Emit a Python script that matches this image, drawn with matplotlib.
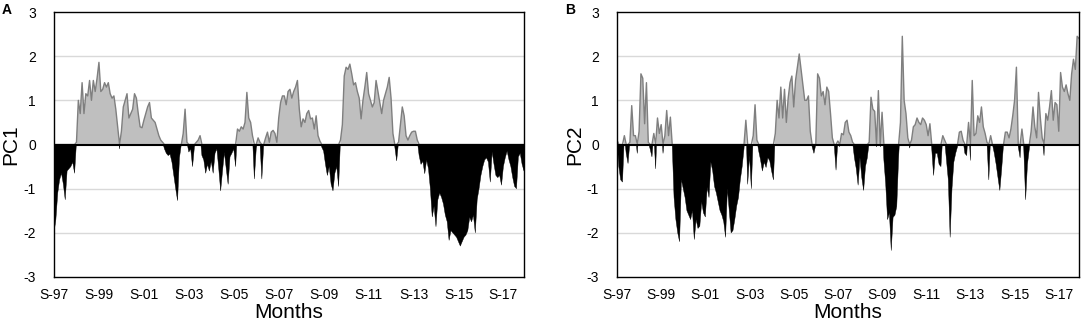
import numpy as np
import matplotlib
matplotlib.use("Agg")
import matplotlib.pyplot as plt

plt.rcParams["font.family"] = ["Liberation Sans", "DejaVu Sans"]
plt.rcParams["axes.unicode_minus"] = False

# monthly PC scores, Sep 1997 .. Aug 2018
pc1 = [
    -2.0, -1.7, -1.1, -0.8, -0.65, -0.9, -1.25, -0.6, -0.55, -0.5, -0.4, -0.65,
    0.05, 1.0, 0.7, 1.4, 0.7, 1.15, 1.1, 1.45, 1.0, 1.45, 1.2, 1.5,
    1.86, 1.2, 1.25, 1.4, 1.3, 1.4, 1.15, 1.05, 1.1, 0.8, 0.4, -0.1,
    0.3, 0.85, 1.0, 1.15, 0.6, 0.7, 0.8, 1.15, 1.05, 0.7, 0.4, 0.38,
    0.55, 0.7, 0.85, 0.95, 0.6, 0.55, 0.5, 0.35, 0.2, 0.1, 0.05, -0.1,
    -0.2, -0.25, -0.22, -0.4, -0.7, -1.0, -1.27, -0.3, 0.0, 0.25, 0.8, 0.05,
    -0.17, -0.1, -0.5, -0.05, 0.05, 0.1, 0.2, -0.25, -0.35, -0.65, -0.45, -0.6,
    -0.38, -0.65, -0.2, -0.1, -0.55, -1.05, -0.6, -0.18, -0.55, -0.9, -0.28, -0.2,
    -0.1, -0.5, 0.35, 0.3, 0.4, 0.35, 0.5, 1.18, 0.6, 0.5, 0.2, -0.78,
    -0.1, 0.15, 0.05, -0.78, 0.0, 0.15, 0.28, 0.05, 0.28, 0.32, 0.25, 0.05,
    0.6, 0.95, 1.1, 1.1, 0.9, 1.2, 1.25, 1.05, 1.2, 1.3, 1.45, 0.8,
    0.4, 0.58, 0.5, 0.7, 0.77, 0.58, 0.6, 0.35, 0.65, 0.2, 0.08, -0.06,
    -0.15, -0.45, -0.7, -0.5, -0.9, -1.05, -0.65, -0.5, -0.95, 0.1, 0.45, 1.55,
    1.75, 1.7, 1.82, 1.6, 1.35, 1.4, 1.2, 1.05, 0.58, 1.0, 1.3, 1.63,
    1.15, 1.0, 0.85, 0.95, 1.45, 1.2, 0.95, 0.7, 1.0, 1.15, 1.3, 1.52,
    1.05, 0.25, -0.05, -0.37, 0.05, 0.45, 0.85, 0.65, 0.2, 0.1, 0.2, 0.28,
    0.3, 0.3, 0.1, -0.25, -0.45, -0.38, -0.66, -0.35, -0.55, -1.0, -1.64, -1.4,
    -1.86, -1.25, -1.1, -1.2, -1.35, -1.6, -1.75, -2.17, -1.95, -2.0, -2.05, -2.1,
    -2.2, -2.3, -2.2, -2.1, -2.05, -1.95, -1.65, -1.75, -1.6, -2.0, -1.25, -1.0,
    -0.7, -0.5, -0.35, -0.3, -0.4, -0.85, -0.17, -0.45, -0.7, -0.75, -0.7, -0.92,
    -0.5, -0.3, -0.15, -0.35, -0.5, -0.75, -0.95, -1.0, -0.28, -0.2, -0.45, -0.6,
]

pc2 = [
    0.1, -0.5, -0.8, -0.85, 0.2, -0.2, -0.43, 0.05, 0.88, 0.2, 0.2, -0.2,
    0.3, 1.6, 1.5, 0.47, 1.4, 0.05, -0.1, -0.28, 0.25, -0.55, 0.6, 0.25,
    0.45, -0.2, 0.2, 0.77, 0.2, 0.62, 0.0, -1.2, -1.7, -2.0, -2.2, -0.8,
    -1.0, -1.2, -1.5, -1.6, -1.7, -1.5, -2.15, -1.7, -1.9, -1.85, -1.3, -1.55,
    -1.64, -0.97, -1.2, -0.4, -0.6, -0.95, -1.1, -1.3, -1.5, -1.6, -1.75, -2.1,
    -1.0, -1.5, -2.0, -1.95, -1.7, -1.4, -1.2, -0.8, -0.5, -0.1, 0.55, -0.9,
    -0.25, -1.0, 0.2, 0.9, 0.1, -0.15, -0.35, -0.6, -0.4, -0.52, -0.3, -0.37,
    -0.6, -0.8, 0.25, 1.0, 0.6, 1.3, 0.6, 1.25, 0.5, 1.05, 1.4, 1.55,
    0.85, 1.45, 1.75, 2.05, 1.7, 1.37, 1.0, 1.0, 1.1, 0.3, -0.05, -0.2,
    0.0, 1.6, 1.5, 1.1, 1.2, 0.9, 1.3, 1.2, 0.7, 0.15, 0.0, -0.58,
    0.08, -0.05, 0.25, 0.22, 0.5, 0.55, 0.28, 0.2, 0.05, -0.3, -0.55, -0.92,
    -0.3, -0.75, -1.04, -0.5, -0.3, 0.05, 1.07, 0.8, 0.75, -0.05, 1.22, -0.05,
    0.73, -0.35, -0.9, -1.7, -1.55, -2.4, -1.65, -1.6, -1.4, -0.3, 0.5, 2.45,
    1.0, 0.7, 0.15, -0.08, 0.1, 0.4, 0.45, 0.6, 0.5, 0.45, 0.6, 0.55,
    0.45, 0.2, 0.47, -0.1, -0.7, -0.2, -0.2, -0.45, -0.5, 0.2, 0.1, -0.35,
    -0.8, -2.1, -1.0, -0.4, -0.2, -0.05, 0.28, 0.3, 0.1, -0.2, -0.25, 0.5,
    -0.36, 1.45, 0.2, 0.25, 0.65, 0.5, 0.85, 0.4, 0.25, 0.05, -0.8, 0.2,
    0.0, -0.2, -0.45, -0.75, -1.04, -0.55, 0.0, 0.28, 0.28, 0.15, 0.35, 0.65,
    1.0, 1.75, -0.05, -0.3, 0.35, -0.1, -1.25, -0.45, -0.1, 0.3, 0.85, 0.4,
    0.15, 1.18, 0.6, 0.15, -0.25, 0.7, 0.55, 0.85, 1.22, 0.55, 0.95, 0.9,
    0.3, 1.63, 1.3, 1.2, 1.35, 1.15, 1.0, 1.6, 1.93, 1.7, 2.45, 2.4,
]

tick_labels = ["S-97", "S-99", "S-01", "S-03", "S-05", "S-07",
               "S-09", "S-11", "S-13", "S-15", "S-17"]
panels = [("A", "PC1", pc1), ("B", "PC2", pc2)]

POS_FILL = "#bfbfbf"
POS_LINE = "#7f7f7f"
GRID = "#d9d9d9"

fig = plt.figure(figsize=(10.84, 3.26), dpi=100)
# plot-area boxes in pixels (left, right) and the pixel x of the y label centre
boxes = [(54, 524, 11), (617, 1079, 575)]
top, bottom = 12, 277
W, H = 1084, 326

for (letter, ylabel, vals), (x0, x1, lab_x) in zip(panels, boxes):
    ax = fig.add_axes([x0 / W, 1 - bottom / H, (x1 - x0) / W, (bottom - top) / H])
    y = np.array(vals)
    x = np.arange(len(y))
    for g in (-2, -1, 1, 2):
        ax.axhline(g, color=GRID, lw=1.0, zorder=0)
    ax.fill_between(x, y, 0, where=y >= 0, interpolate=True, color=POS_FILL, lw=0, zorder=1)
    ax.fill_between(x, y, 0, where=y <= 0, interpolate=True, color="black", lw=0.3,
                    edgecolor="black", zorder=1)
    ax.plot(x, np.maximum(y, 0), color=POS_LINE, lw=1.0, zorder=2)
    ax.axhline(0, color="black", lw=1.5, zorder=3)

    ax.set_xlim(0, len(y) - 1)
    ax.set_ylim(-3, 3)
    ax.set_yticks(range(-3, 4))
    ax.set_xticks(range(0, 241, 24))
    ax.set_xticklabels(tick_labels)
    ax.tick_params(axis="both", length=0, labelsize=10)
    ax.tick_params(axis="y", pad=13)
    ax.tick_params(axis="x", pad=8)
    for s in ax.spines.values():
        s.set_color("black")
        s.set_linewidth(1.0)
    ax.set_xlabel("Months", fontsize=15, labelpad=1)
    ax.set_ylabel(ylabel, fontsize=15, va="center")
    ax.yaxis.set_label_coords((lab_x - x0) / (x1 - x0), 0.5)
    fig.text((x0 - 52) / W, 1 - 3 / H, letter, fontsize=10, fontweight="bold",
             ha="left", va="top")

fig.savefig("out.png", dpi=100)
